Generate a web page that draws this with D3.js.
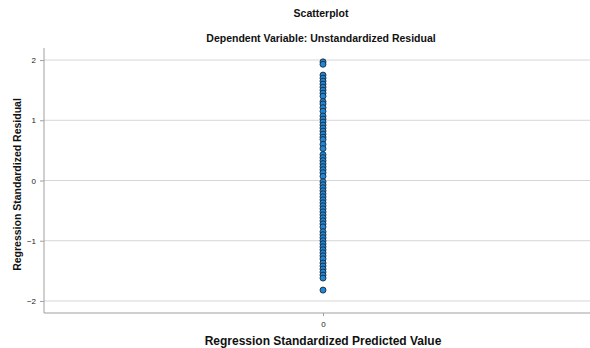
<!DOCTYPE html>
<html>
<head>
<meta charset="utf-8">
<script src="https://cdn.jsdelivr.net/npm/d3@7"></script>
<style>
  html, body { margin: 0; padding: 0; background: #fff; }
  svg { display: block; font-family: "Liberation Sans", Arial, sans-serif; }
</style>
</head>
<body>
<svg id="chart" width="590" height="348"></svg>
<script>
// Chart text
const chartTitle = "Scatterplot";
const chartSubtitle = "Dependent Variable: Unstandardized Residual";
const xAxisTitle = "Regression Standardized Predicted Value";
const yAxisTitle = "Regression Standardized Residual";

// Tick values
const xTicks = [0];
const yTicks = [-2, -1, 0, 1, 2];

// Observations: predicted value (all 0) and standardized residual
const residuals = [
  1.97, 1.93,
  1.75, 1.70, 1.65, 1.60, 1.55, 1.50, 1.45, 1.40,
  1.31, 1.27,
  1.21, 1.15,
  1.07, 1.02, 0.97, 0.92, 0.87, 0.82, 0.77, 0.72, 0.68,
  0.60, 0.53,
  0.43, 0.38, 0.33, 0.28, 0.23, 0.18,
  0.13, 0.07,
  -0.02, -0.07, -0.12, -0.17, -0.22, -0.27, -0.32, -0.37, -0.42,
  -0.47, -0.52, -0.57, -0.62, -0.67, -0.72, -0.77,
  -0.85, -0.90, -0.95, -1.00, -1.05, -1.10, -1.15, -1.20, -1.25, -1.30,
  -1.37, -1.42, -1.47, -1.52, -1.57, -1.62,
  -1.82
];
const predicted = residuals.map(() => 0);

const svg = d3.select("#chart");
const plot = { left: 44, right: 590, top: 48, bottom: 313 };

const x = d3.scaleLinear().domain([-1, 1]).range([plot.left, 602]);
const y = d3.scaleLinear().domain([-2.2, 2.2]).range([plot.bottom, plot.top]);

// Titles
svg.append("text")
  .attr("x", 321).attr("y", 17)
  .attr("text-anchor", "middle")
  .attr("font-size", 10.5).attr("font-weight", "bold").attr("fill", "#111")
  .text(chartTitle);
svg.append("text")
  .attr("x", 321).attr("y", 42)
  .attr("text-anchor", "middle")
  .attr("font-size", 10.5).attr("font-weight", "bold").attr("fill", "#111")
  .text(chartSubtitle);

// Horizontal gridlines
svg.append("g")
  .selectAll("line")
  .data(yTicks)
  .join("line")
  .attr("x1", plot.left).attr("x2", plot.right)
  .attr("y1", d => y(d)).attr("y2", d => y(d))
  .attr("stroke", "#d6d6d6").attr("stroke-width", 1);

// Y axis
const yAxis = svg.append("g")
  .attr("transform", `translate(${plot.left},0)`)
  .call(d3.axisLeft(y).tickValues(yTicks).tickSize(4).tickPadding(4).tickFormat(d3.format("d")));
yAxis.select(".domain").attr("d", `M0,${plot.top}V${plot.bottom}`).attr("stroke", "#a0a0a0");
yAxis.selectAll(".tick line").attr("stroke", "#a0a0a0");
yAxis.selectAll(".tick text").attr("font-size", 8).attr("fill", "#222")
  .attr("font-family", "'Liberation Sans', Arial, sans-serif");

// X axis
const xAxis = svg.append("g")
  .attr("transform", `translate(0,${plot.bottom})`)
  .call(d3.axisBottom(x).tickValues(xTicks).tickSize(3).tickPadding(5).tickFormat(d3.format("d")));
xAxis.select(".domain").attr("d", `M${plot.left},0H${plot.right}`).attr("stroke", "#a0a0a0").attr("stroke-width", 1.2);
xAxis.selectAll(".tick line").attr("stroke", "#a0a0a0");
xAxis.selectAll(".tick text").attr("font-size", 8).attr("fill", "#222")
  .attr("font-family", "'Liberation Sans', Arial, sans-serif");

// Axis titles
svg.append("text")
  .attr("x", 323).attr("y", 345)
  .attr("text-anchor", "middle")
  .attr("font-size", 12).attr("font-weight", "bold").attr("fill", "#111")
  .text(xAxisTitle);
svg.append("text")
  .attr("transform", `translate(21,${y(0) + 4}) rotate(-90)`)
  .attr("text-anchor", "middle")
  .attr("font-size", 10.5).attr("font-weight", "bold").attr("fill", "#111")
  .text(yAxisTitle);

// Points
svg.append("g")
  .selectAll("circle")
  .data(residuals.map((r, i) => ({ px: predicted[i], r })))
  .join("circle")
  .attr("cx", d => x(d.px))
  .attr("cy", d => y(d.r))
  .attr("r", 3)
  .attr("fill", "#1f87d8")
  .attr("stroke", "#1c2a38")
  .attr("stroke-width", 0.9);
</script>
</body>
</html>
